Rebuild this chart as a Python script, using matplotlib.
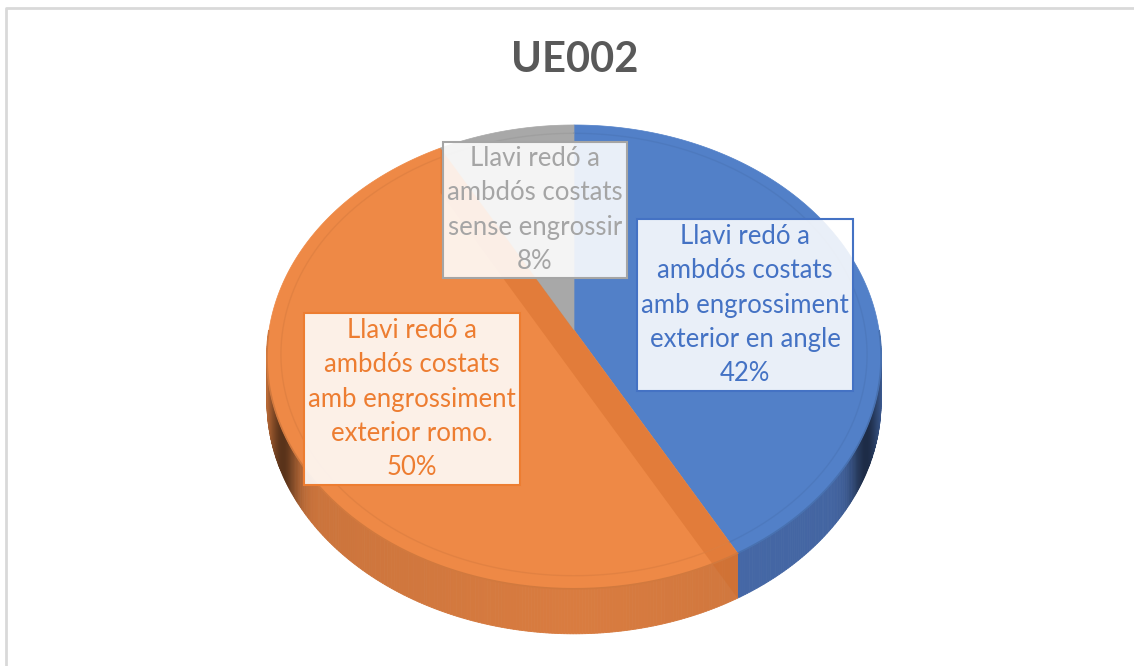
import numpy as np
import matplotlib.pyplot as plt
from matplotlib.patches import Polygon
from matplotlib.colors import to_rgb

# data
title = 'UE002'
labels = ['Llavi redó a\nambdós costats\namb engrossiment\nexterior en angle',
          'Llavi redó a\nambdós costats\namb engrossiment\nexterior romo.',
          'Llavi redó a\nambdós costats\nsense engrossir']
shares = [42, 50, 8]
top_colors = ['#5280c8', '#ee8946', '#a8a8a8']
side_colors = ['#4a6fb2', '#e08042', '#959595']
text_colors = ['#4472c4', '#ed7d31', '#a5a5a5']
label_pos = [(745, 305), (412, 399), (535, 210)]

# geometry of the tilted disc (pixels)
X0, Y0 = 574, 330
A, B, K = 305, 228.8, 0.116
DEPTH = 45


def proj(theta, r=1.0):
    t = np.radians(theta)
    u = r * np.sin(t)
    v = r * np.cos(t)
    w = 1 + K * v
    return X0 + A * u / w, Y0 - B * v / w


def shade(c, f):
    return tuple(np.clip(np.array(to_rgb(c)) * f, 0, 1))


fig = plt.figure(figsize=(11.34, 6.66), dpi=100)
ax = fig.add_axes([0, 0, 1, 1])
ax.set_xlim(0, 1134)
ax.set_ylim(666, 0)
ax.axis('off')

# chart frame (left and top only visible)
ax.plot([6, 6, 1134], [666, 8, 8], color='#d9d9d9', lw=2, solid_capstyle='butt')

bounds = np.concatenate([[0], np.cumsum(shares)]) * 360 / sum(shares)

# side walls of the front half
for i in range(len(shares)):
    a0, a1 = max(bounds[i], 90), min(bounds[i + 1], 270)
    if a1 <= a0:
        continue
    steps = np.linspace(a0, a1, int((a1 - a0) * 2) + 2)
    for s0, s1 in zip(steps[:-1], steps[1:]):
        x0, y0 = proj(s0)
        x1, y1 = proj(s1)
        um = abs(np.sin(np.radians((s0 + s1) / 2)))
        f = 0.97 - 0.08 * um - 0.5 * np.exp(-((um - 0.91) / 0.06) ** 2)
        ax.add_patch(Polygon([(x0, y0), (x1, y1), (x1, y1 + DEPTH), (x0, y0 + DEPTH)],
                             closed=True, fc=shade(side_colors[i], f),
                             ec=shade(side_colors[i], f), lw=0.6))

# top faces
for i in range(len(shares)):
    th = np.linspace(bounds[i], bounds[i + 1], 200)
    xs, ys = proj(th)
    pts = [(X0, Y0)] + list(zip(xs, ys))
    ax.add_patch(Polygon(pts, closed=True, fc=top_colors[i], ec=top_colors[i], lw=0.5))
    # bevel line just inside the rim
    bx, by = proj(th, 0.955)
    ax.plot(bx, by, color=shade(top_colors[i], 0.93), lw=1, alpha=0.7)
    # rim edge on the front
    front = (th > 90) & (th < 270)
    if front.any():
        ax.plot(xs[front], ys[front], color=shade(top_colors[i], 0.88), lw=1.2)

# inner walls of the orange slice seen through the top
for ang in [bounds[1], bounds[2]]:
    cx, cy = proj(ang)
    ax.add_patch(Polygon([(X0, Y0), (cx, cy), (cx, cy + DEPTH), (X0, Y0 + DEPTH)],
                         closed=True, fc='#d06a28', ec='none', alpha=0.4))

# data labels
for i in range(len(shares)):
    x, y = label_pos[i]
    ax.text(x, y, labels[i] + '\n%d%%' % shares[i], ha='center', va='center',
            fontsize=18.5, family='Lato', color=text_colors[i], linespacing=1.47,
            bbox=dict(boxstyle='square,pad=0.17', fc=(1, 1, 1, 0.88),
                      ec=text_colors[i], lw=1.5))

ax.text(575, 60, title, ha='center', va='center', fontsize=30, family='Lato',
        fontweight='bold', color='#595959')

fig.savefig('out.png', dpi=100)
